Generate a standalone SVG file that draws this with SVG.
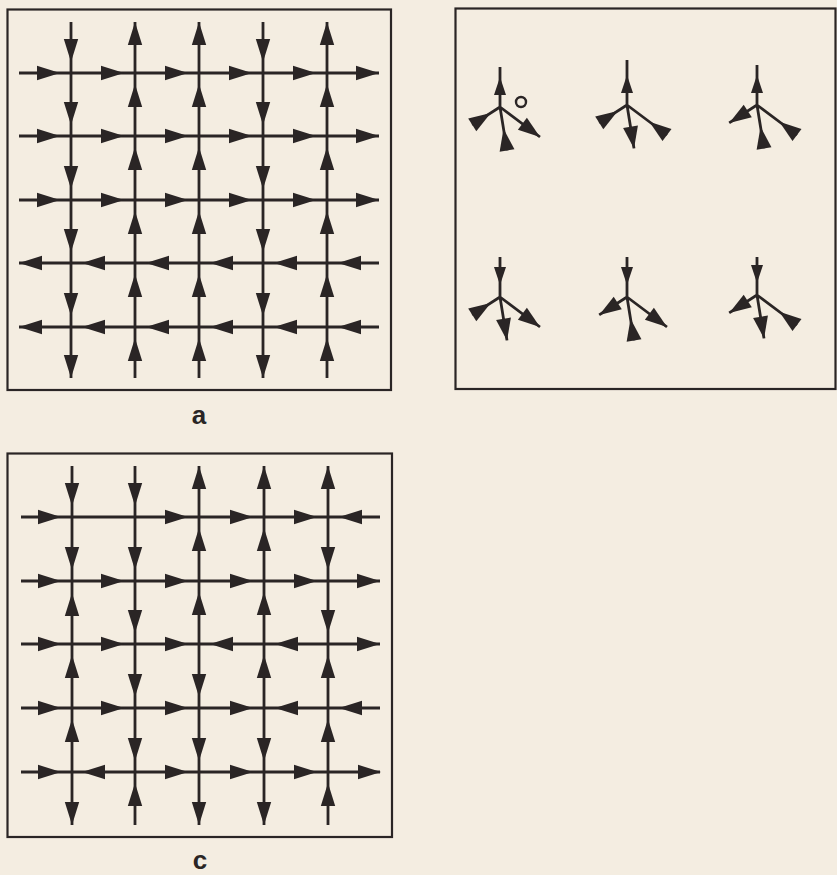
<svg xmlns="http://www.w3.org/2000/svg" xmlns:xlink="http://www.w3.org/1999/xlink" width="837" height="875" viewBox="0 0 837 875">
<style>
.bg{fill:#f4ede1}
.box{fill:none;stroke:#2a2525;stroke-width:2.2}
.ln{fill:none;stroke:#2a2525;stroke-width:2.8;stroke-linecap:butt}
.ah{fill:#2a2525}
.lbl{font-family:"Liberation Sans","DejaVu Sans",sans-serif;font-weight:bold;font-size:26px;fill:#2a2525;text-anchor:middle}
</style>
<defs>
<path id="gh" class="ah" d="M0,0 L-23,-7.2 L-23,7.2 Z"/>
<path id="th" class="ah" d="M0,0 L-22,-7.5 L-22,7.5 Z"/>
<path id="uh" class="ah" d="M0,0 L-18,-6 L-18,6 Z"/>
</defs>
<rect class="bg" x="0" y="0" width="837" height="875"/>

<g id="panel-a">
<rect class="box" x="7.5" y="9.5" width="383.5" height="380.5"/>
<g id="a-lines">
<path class="ln" d="M19,73H379M19,136H379M19,200H379M19,263H379M19,327H379"/>
<path class="ln" d="M71,22V378M135,22V378M199,22V378M263,22V378M327,22V378"/>
</g>
<g id="a-heads">
<use href="#gh" transform="translate(60,73)"/><use href="#gh" transform="translate(124,73)"/><use href="#gh" transform="translate(188,73)"/><use href="#gh" transform="translate(252,73)"/><use href="#gh" transform="translate(316,73)"/><use href="#gh" transform="translate(379,73)"/>
<use href="#gh" transform="translate(60,136)"/><use href="#gh" transform="translate(124,136)"/><use href="#gh" transform="translate(188,136)"/><use href="#gh" transform="translate(252,136)"/><use href="#gh" transform="translate(316,136)"/><use href="#gh" transform="translate(379,136)"/>
<use href="#gh" transform="translate(60,200)"/><use href="#gh" transform="translate(124,200)"/><use href="#gh" transform="translate(188,200)"/><use href="#gh" transform="translate(252,200)"/><use href="#gh" transform="translate(316,200)"/><use href="#gh" transform="translate(379,200)"/>
<use href="#gh" transform="translate(19,263) rotate(180)"/><use href="#gh" transform="translate(82,263) rotate(180)"/><use href="#gh" transform="translate(146,263) rotate(180)"/><use href="#gh" transform="translate(210,263) rotate(180)"/><use href="#gh" transform="translate(274,263) rotate(180)"/><use href="#gh" transform="translate(338,263) rotate(180)"/>
<use href="#gh" transform="translate(19,327) rotate(180)"/><use href="#gh" transform="translate(82,327) rotate(180)"/><use href="#gh" transform="translate(146,327) rotate(180)"/><use href="#gh" transform="translate(210,327) rotate(180)"/><use href="#gh" transform="translate(274,327) rotate(180)"/><use href="#gh" transform="translate(338,327) rotate(180)"/>
<use href="#gh" transform="translate(71,62) rotate(90)"/><use href="#gh" transform="translate(71,125) rotate(90)"/><use href="#gh" transform="translate(71,189) rotate(90)"/><use href="#gh" transform="translate(71,252) rotate(90)"/><use href="#gh" transform="translate(71,316) rotate(90)"/><use href="#gh" transform="translate(71,378) rotate(90)"/>
<use href="#gh" transform="translate(263,62) rotate(90)"/><use href="#gh" transform="translate(263,125) rotate(90)"/><use href="#gh" transform="translate(263,189) rotate(90)"/><use href="#gh" transform="translate(263,252) rotate(90)"/><use href="#gh" transform="translate(263,316) rotate(90)"/><use href="#gh" transform="translate(263,378) rotate(90)"/>
<use href="#gh" transform="translate(135,22) rotate(-90)"/><use href="#gh" transform="translate(135,84) rotate(-90)"/><use href="#gh" transform="translate(135,147) rotate(-90)"/><use href="#gh" transform="translate(135,211) rotate(-90)"/><use href="#gh" transform="translate(135,274) rotate(-90)"/><use href="#gh" transform="translate(135,338) rotate(-90)"/>
<use href="#gh" transform="translate(199,22) rotate(-90)"/><use href="#gh" transform="translate(199,84) rotate(-90)"/><use href="#gh" transform="translate(199,147) rotate(-90)"/><use href="#gh" transform="translate(199,211) rotate(-90)"/><use href="#gh" transform="translate(199,274) rotate(-90)"/><use href="#gh" transform="translate(199,338) rotate(-90)"/>
<use href="#gh" transform="translate(327,22) rotate(-90)"/><use href="#gh" transform="translate(327,84) rotate(-90)"/><use href="#gh" transform="translate(327,147) rotate(-90)"/><use href="#gh" transform="translate(327,211) rotate(-90)"/><use href="#gh" transform="translate(327,274) rotate(-90)"/><use href="#gh" transform="translate(327,338) rotate(-90)"/>
</g>
<text class="lbl" x="199" y="424">a</text>
</g>

<g id="panel-b">
<rect class="box" x="455.5" y="8.5" width="380" height="380.5"/>
<g id="b-v1" transform="translate(500,107)">
<path class="ln" d="M0,0V-40M0,0L-27.8,17.9M0,0L7,43.4M0,0L40,30"/>
<use href="#uh" transform="rotate(-90) translate(30,0)"/>
<use href="#th" transform="rotate(147.2) translate(11,0) rotate(180)"/>
<use href="#th" transform="rotate(80.8) translate(22,0) rotate(180)"/>
<use href="#th" transform="rotate(36.9) translate(50,0)"/>
<circle cx="21" cy="-5" r="5" fill="none" stroke="#2a2525" stroke-width="2.4"/>
</g>
<g id="b-v2" transform="translate(627,105)">
<path class="ln" d="M0,0V-45M0,0L-27.8,17.9M0,0L7,43.4M0,0L40,30"/>
<use href="#uh" transform="rotate(-90) translate(30,0)"/>
<use href="#th" transform="rotate(147.2) translate(11,0) rotate(180)"/>
<use href="#th" transform="rotate(80.8) translate(44,0)"/>
<use href="#th" transform="rotate(36.9) translate(28,0) rotate(180)"/>
</g>
<g id="b-v3" transform="translate(757,105)">
<path class="ln" d="M0,0V-40M0,0L-27.8,17.9M0,0L7,43.4M0,0L40,30"/>
<use href="#uh" transform="rotate(-90) translate(30,0)"/>
<use href="#th" transform="rotate(147.2) translate(33,0)"/>
<use href="#th" transform="rotate(80.8) translate(22,0) rotate(180)"/>
<use href="#th" transform="rotate(36.9) translate(28,0) rotate(180)"/>
</g>
<g id="b-v4" transform="translate(500,297)">
<path class="ln" d="M0,0V-40M0,0L-27.8,17.9M0,0L7,43.4M0,0L40,30"/>
<use href="#uh" transform="rotate(-90) translate(12,0) rotate(180)"/>
<use href="#th" transform="rotate(147.2) translate(11,0) rotate(180)"/>
<use href="#th" transform="rotate(80.8) translate(44,0)"/>
<use href="#th" transform="rotate(36.9) translate(50,0)"/>
</g>
<g id="b-v5" transform="translate(627,297)">
<path class="ln" d="M0,0V-40M0,0L-27.8,17.9M0,0L7,43.4M0,0L40,30"/>
<use href="#uh" transform="rotate(-90) translate(12,0) rotate(180)"/>
<use href="#th" transform="rotate(147.2) translate(33,0)"/>
<use href="#th" transform="rotate(80.8) translate(22,0) rotate(180)"/>
<use href="#th" transform="rotate(36.9) translate(50,0)"/>
</g>
<g id="b-v6" transform="translate(757,295)">
<path class="ln" d="M0,0V-38M0,0L-27.8,17.9M0,0L7,43.4M0,0L40,30"/>
<use href="#uh" transform="rotate(-90) translate(12,0) rotate(180)"/>
<use href="#th" transform="rotate(147.2) translate(33,0)"/>
<use href="#th" transform="rotate(80.8) translate(44,0)"/>
<use href="#th" transform="rotate(36.9) translate(28,0) rotate(180)"/>
</g>
</g>

<g id="panel-c">
<rect class="box" x="7.5" y="453.5" width="384.5" height="383.5"/>
<g id="c-lines">
<path class="ln" d="M21,517H380M21,581H380M21,644H380M21,708H380M21,772H380"/>
<path class="ln" d="M72,466V825M135,466V825M199,466V825M264,466V825M328,466V825"/>
</g>
<g id="c-heads">
<use href="#gh" transform="translate(61,517)"/><use href="#gh" transform="translate(188,517)"/><use href="#gh" transform="translate(253,517)"/><use href="#gh" transform="translate(317,517)"/><use href="#gh" transform="translate(339,517) rotate(180)"/>
<use href="#gh" transform="translate(61,581)"/><use href="#gh" transform="translate(124,581)"/><use href="#gh" transform="translate(188,581)"/><use href="#gh" transform="translate(253,581)"/><use href="#gh" transform="translate(317,581)"/><use href="#gh" transform="translate(380,581)"/>
<use href="#gh" transform="translate(61,644)"/><use href="#gh" transform="translate(124,644)"/><use href="#gh" transform="translate(188,644)"/><use href="#gh" transform="translate(210,644) rotate(180)"/><use href="#gh" transform="translate(275,644) rotate(180)"/><use href="#gh" transform="translate(380,644)"/>
<use href="#gh" transform="translate(61,708)"/><use href="#gh" transform="translate(124,708)"/><use href="#gh" transform="translate(188,708)"/><use href="#gh" transform="translate(253,708)"/><use href="#gh" transform="translate(275,708) rotate(180)"/><use href="#gh" transform="translate(339,708) rotate(180)"/>
<use href="#gh" transform="translate(61,772)"/><use href="#gh" transform="translate(82,772) rotate(180)"/><use href="#gh" transform="translate(188,772)"/><use href="#gh" transform="translate(253,772)"/><use href="#gh" transform="translate(317,772)"/><use href="#gh" transform="translate(381,772)"/>
<use href="#gh" transform="translate(72,506) rotate(90)"/><use href="#gh" transform="translate(72,570) rotate(90)"/><use href="#gh" transform="translate(72,593) rotate(-90)"/><use href="#gh" transform="translate(72,655) rotate(-90)"/><use href="#gh" transform="translate(72,719) rotate(-90)"/><use href="#gh" transform="translate(72,825) rotate(90)"/>
<use href="#gh" transform="translate(135,506) rotate(90)"/><use href="#gh" transform="translate(135,570) rotate(90)"/><use href="#gh" transform="translate(135,633) rotate(90)"/><use href="#gh" transform="translate(135,697) rotate(90)"/><use href="#gh" transform="translate(135,761) rotate(90)"/><use href="#gh" transform="translate(135,783) rotate(-90)"/>
<use href="#gh" transform="translate(199,466) rotate(-90)"/><use href="#gh" transform="translate(199,528) rotate(-90)"/><use href="#gh" transform="translate(199,592) rotate(-90)"/><use href="#gh" transform="translate(199,697) rotate(90)"/><use href="#gh" transform="translate(199,761) rotate(90)"/><use href="#gh" transform="translate(199,825) rotate(90)"/>
<use href="#gh" transform="translate(264,466) rotate(-90)"/><use href="#gh" transform="translate(264,528) rotate(-90)"/><use href="#gh" transform="translate(264,592) rotate(-90)"/><use href="#gh" transform="translate(264,655) rotate(-90)"/><use href="#gh" transform="translate(264,761) rotate(90)"/><use href="#gh" transform="translate(264,825) rotate(90)"/>
<use href="#gh" transform="translate(328,466) rotate(-90)"/><use href="#gh" transform="translate(328,570) rotate(90)"/><use href="#gh" transform="translate(328,633) rotate(90)"/><use href="#gh" transform="translate(328,655) rotate(-90)"/><use href="#gh" transform="translate(328,719) rotate(-90)"/><use href="#gh" transform="translate(328,783) rotate(-90)"/>
</g>
<text class="lbl" x="200" y="869">c</text>
</g>
</svg>
